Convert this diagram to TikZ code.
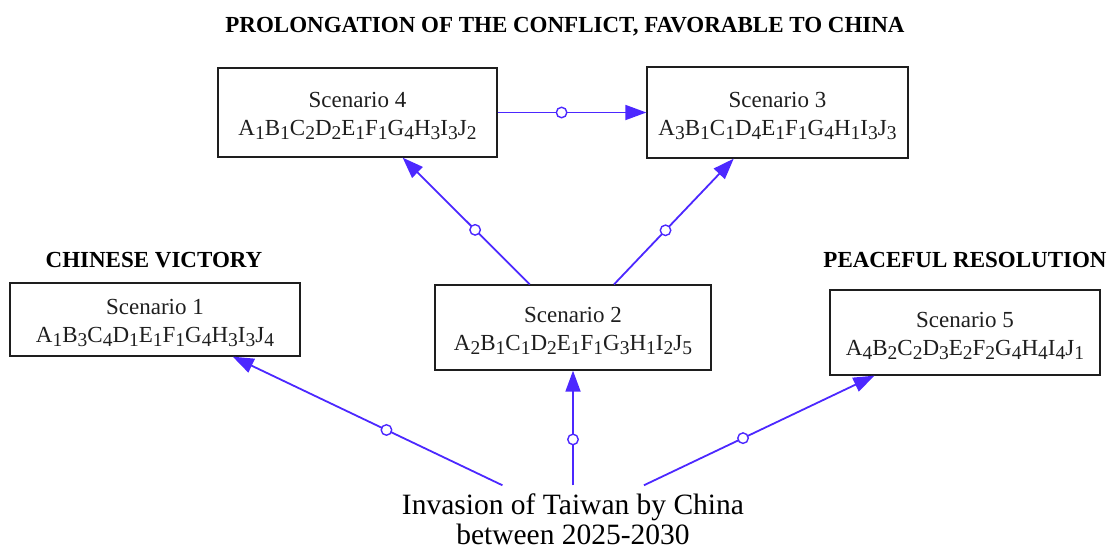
\documentclass[tikz,border=0pt]{standalone}
\usepackage{fontspec}
\setmainfont{Liberation Serif}
\usetikzlibrary{arrows.meta}

\definecolor{linkblue}{RGB}{76,40,255}
\definecolor{boxgray}{RGB}{30,30,30}

% lowered index digit of a state letter
\newcommand{\ix}[1]{\raisebox{-0.2em}{\fontsize{19.5}{19.5}\selectfont #1}}
% text of one scenario box
\newcommand{\scenK}[2]{\rule{0pt}{22pt}Scenario #1\\#2}

\begin{document}
\begin{tikzpicture}[x=1pt,y=-1pt,
  scenbox/.style={draw=boxgray,line width=1.3pt,align=center,inner sep=0pt,
    text=boxgray,font=\fontsize{23}{28}\selectfont},
  heading/.style={anchor=base,text=black,font=\bfseries\fontsize{23}{23}\selectfont},
  link/.style={linkblue,line width=1.8pt,-{Triangle[length=21pt,width=15pt]}},
  waypt/.style={circle,draw=linkblue,line width=1.4pt,fill=white,inner sep=0pt,minimum size=10.5pt}]
\useasboundingbox (0,0) rectangle (1115,549);

\node [heading] (t1) at (565,32) {PROLONGATION OF THE CONFLICT, FAVORABLE TO CHINA};
\node [heading] (t2) at (154,267) {CHINESE VICTORY};
\node [heading] (t3) at (965,267) {PEACEFUL RESOLUTION};

\node [scenbox,minimum width=279pt,minimum height=89pt] (S4) at (357.5,112.5)
  {\scenK{4}{A\ix1B\ix1C\ix2D\ix2E\ix1F\ix1G\ix4H\ix3I\ix3J\ix2}};
\node [scenbox,minimum width=261pt,minimum height=91pt] (S3) at (777.5,112.5)
  {\scenK{3}{A\ix3B\ix1C\ix1D\ix4E\ix1F\ix1G\ix4H\ix1I\ix3J\ix3}};
\node [scenbox,minimum width=290pt,minimum height=73pt] (S1) at (155,319.5)
  {\scenK{1}{A\ix1B\ix3C\ix4D\ix1E\ix1F\ix1G\ix4H\ix3I\ix3J\ix4}};
\node [scenbox,minimum width=276pt,minimum height=85pt] (S2) at (573,327.5)
  {\scenK{2}{A\ix2B\ix1C\ix1D\ix2E\ix1F\ix1G\ix3H\ix1I\ix2J\ix5}};
\node [scenbox,minimum width=270pt,minimum height=85pt] (S5) at (965,332.5)
  {\scenK{5}{A\ix4B\ix2C\ix2D\ix3E\ix2F\ix2G\ix4H\ix4I\ix4J\ix1}};

\node [align=center,inner xsep=4pt,inner ysep=8pt,text=black,
  font=\fontsize{29.5}{30}\selectfont] (inv) at (573,519)
  {Invasion of Taiwan by China\\between 2025-2030};

\draw [link] (inv) -- node [waypt,pos=0.43] {} (S1);
\draw [link] (inv) -- node [waypt,pos=0.40] {} (S2);
\draw [link] (inv) -- node [waypt,pos=0.43] {} (S5);
\draw [link] (S2) -- node [waypt,pos=0.43] {} (S4);
\draw [link] (S2) -- node [waypt,pos=0.43] {} (S3);
\draw [link] (S4) -- node [waypt,pos=0.43] {} (S3);
\end{tikzpicture}
\end{document}
